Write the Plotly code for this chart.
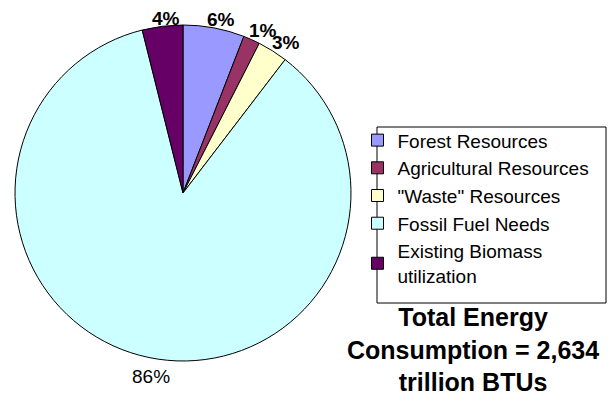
import math
import plotly.graph_objects as go

categories = ["Forest Resources", "Agricultural Resources", "\"Waste\" Resources",
              "Fossil Fuel Needs", "Existing Biomass<br>utilization"]
values = [5.9, 1.6, 2.9, 85.7, 3.9]
pct_labels = ["6%", "1%", "3%", "86%", "4%"]
label_bold = [True, True, True, False, True]
colors = ["#9999FF", "#993366", "#FFFFCC", "#CCFFFF", "#660066"]

FONT = "Liberation Sans, Arial, sans-serif"
W, H = 608, 395
# pie geometry in pixels (domain box)
CX, CY, R = 183, 193, 168
LABEL_SIZE = 19

fig = go.Figure(go.Pie(
    labels=categories,
    values=values,
    textinfo="none",
    sort=False,
    direction="clockwise",
    rotation=0,
    marker=dict(colors=colors, line=dict(color="#000000", width=1)),
    domain=dict(x=[(CX - R) / W, (CX + R) / W], y=[1 - (CY + R) / H, 1 - (CY - R) / H]),
    hoverinfo="label+percent",
))

# percentage labels placed just outside the slice mid-angles (computed from values)
annotations = []
total = sum(values)
cum = 0.0
for v, lab, b in zip(values, pct_labels, label_bold):
    mid = (cum + v / 2) / total * 2 * math.pi
    cum += v
    s, c = math.sin(mid), math.cos(mid)
    tw = len(lab) * 0.5 * LABEL_SIZE
    th = 0.95 * LABEL_SIZE
    ext = abs(s) * tw / 2 + abs(c) * th / 2
    d = R + 3 + ext
    px, py = CX + d * s + 5, CY - d * c + 5
    annotations.append(dict(
        text=f"<b>{lab}</b>" if b else lab,
        xref="paper", yref="paper", x=px / W, y=1 - py / H,
        xanchor="center", yanchor="middle", showarrow=False,
        font=dict(family=FONT, size=LABEL_SIZE, color="#000000"),
    ))

annotations.append(dict(
    text="<b>Total Energy<br>Consumption = 2,634<br>trillion BTUs</b>",
    xref="paper", yref="paper", x=473 / W, y=1 - 349 / H,
    xanchor="center", yanchor="middle", showarrow=False,
    font=dict(family=FONT, size=25, color="#000000"), align="center",
))

fig.update_layout(
    width=W, height=H,
    margin=dict(l=0, r=0, t=0, b=0),
    paper_bgcolor="#FFFFFF",
    plot_bgcolor="#FFFFFF",
    showlegend=True,
    legend=dict(
        x=0.588, y=0.693, xanchor="left", yanchor="top",
        font=dict(family=FONT, size=19, color="#000000"),
        bgcolor="rgba(0,0,0,0)",
        borderwidth=0,
        itemwidth=30,
        tracegroupgap=0,
    ),
    shapes=[dict(type="rect", xref="paper", yref="paper",
                 x0=377 / W, x1=606 / W, y0=1 - 303 / H, y1=1 - 127 / H,
                 line=dict(color="#000000", width=1), fillcolor="rgba(0,0,0,0)")],
    annotations=annotations,
)

fig.write_html("out.html")
